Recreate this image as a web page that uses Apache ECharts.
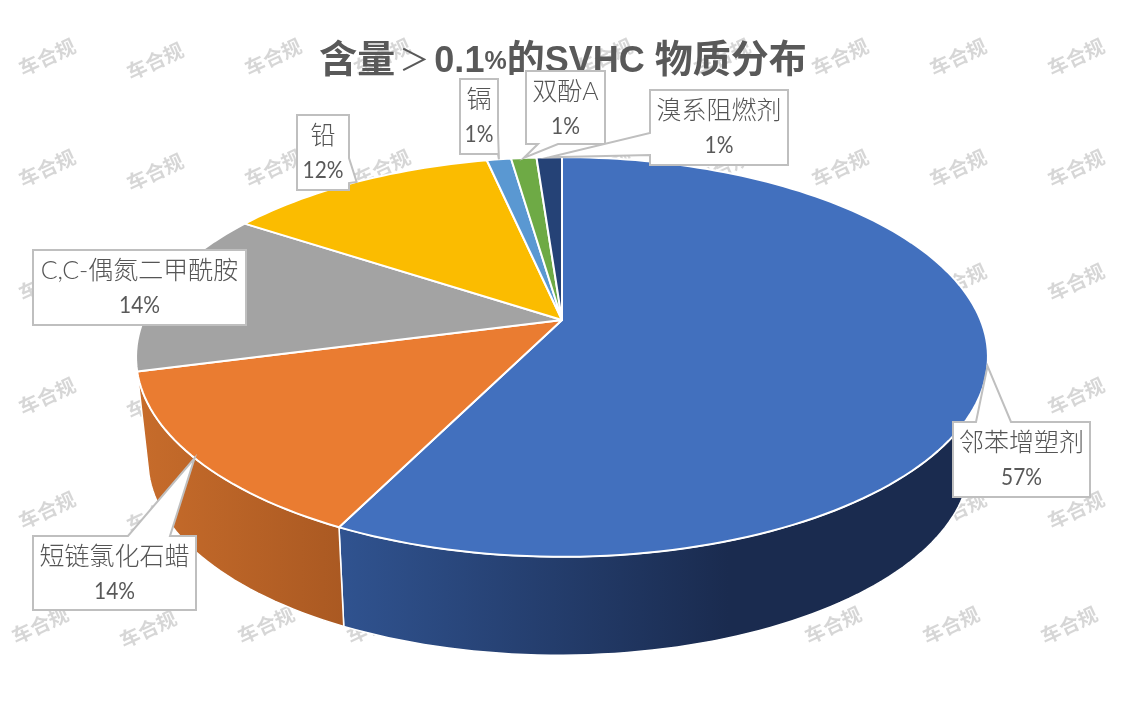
<!DOCTYPE html>
<html><head><meta charset="utf-8">
<style>html,body{margin:0;padding:0;background:#fff}#c{width:1125px;height:727px}</style>
<script src="https://cdn.jsdelivr.net/npm/echarts@6/dist/echarts.min.js"></script>
</head><body><div id="c"></div>
<script>
// ---- data ----
const categories = ['邻苯增塑剂','短链氯化石蜡','C,C-偶氮二甲酰胺','铅','镉','双酚A','溴系阻燃剂'];
const values = [57.33, 13.57, 13.37, 12.33, 1.1, 1.15, 1.15];
const percentLabels = ['57%','14%','14%','12%','1%','1%','1%'];
const colors = ['#4270be','#ea7c31','#a3a3a3','#fbbc00','#5a98d2','#6eaa45','#254276'];
const watermarkText = '车合规';

// ---- layout ----
const topPlane = {cx:562, cy:320, R:418.6, S:193, k:0.185, a:0};
const botPlane = {cx:559, cy:424.5, R:404, S:188, k:0.185, a:0};
const wallRange = [78, 262];
const wallGrad = {
  0:[[0,'#305390'],[0.6,'#1a2b4f'],[1,'#1a2b4f']],
  1:[[0,'#c76c2b'],[1,'#aa5922']]
};
// box: x0,y0,x1,y1, pointer side, base start, base end
const boxes = [
  [953,422,1090,497,'top',976,1011],
  [33,536,196,610,'top',128,170],
  [33,250,246,325,null,0,0],
  [297,115,349,190,'right',158,183],
  [460,79,498,154,'right',133,154],
  [526,71,605,144,'bottom',538,558],
  [650,90,788,165,'left',133,155]
];
const wmCols = [47,155,273,382,604,722,840,958,1076];
const wmRows = [57,168,282,396,510,625];

// ---- geometry ----
const total = values.reduce((a,b)=>a+b,0);
const bounds = [0];
values.forEach(v=>bounds.push(bounds[bounds.length-1]+v/total*360));
function proj(p,deg){
  const t=deg*Math.PI/180,u=Math.sin(t),v=-Math.cos(t),w=1-p.k*v;
  return [p.cx+p.R*u/w+p.a*v/w, p.cy+p.S*v/w];
}
function arc(p,a,b){
  const n=Math.max(2,Math.ceil(Math.abs(b-a)/1.5)),r=[];
  for(let i=0;i<=n;i++) r.push(proj(p,a+(b-a)*i/n));
  return r;
}
const nameFont = '300 25px Lato, "Noto Sans CJK SC", sans-serif';
const pctFont = '400 24px Lato, "Noto Sans CJK SC", sans-serif';
const idx = values.map((_,i)=>[i]);

const chart = echarts.init(document.getElementById('c'),null,{renderer:'canvas'});
const wm=[];
wmRows.forEach((y,r)=>wmCols.forEach((x,c)=>{
  const dx = r===5?-7:0, dy=c===1?4:0;
  wm.push({type:'text',x:x+dx,y:y+dy,rotation:25*Math.PI/180,z:0,silent:true,
    style:{text:watermarkText,align:'center',verticalAlign:'middle',
      font:'700 20px "Noto Sans CJK SC", sans-serif',fill:'rgba(0,0,0,0.16)'}});
}));

const tf='"Liberation Sans","Noto Sans CJK SC",sans-serif';
chart.setOption({
  animation:false,
  backgroundColor:'#fff',
  graphic:wm,
  title:{text:'{c|含量}{g|＞}{n|0.1}{p|%}{c|的}{l|SVHC }{c|物质分布}',left:558,top:33,textAlign:'center',z:1,
    textStyle:{color:'#595959',fontFamily:tf,fontSize:38,fontWeight:'bold',lineHeight:48,
      rich:{
        c:{fontSize:38,fontWeight:'bold',color:'#595959',fontFamily:tf},
        g:{fontSize:30,fontWeight:'normal',color:'#595959',fontFamily:tf,padding:[0,5,0,4]},
        n:{fontSize:36,fontWeight:'bold',color:'#595959',fontFamily:tf},
        p:{fontSize:25,fontWeight:'bold',color:'#595959',fontFamily:tf},
        l:{fontSize:36,fontWeight:'bold',color:'#595959',fontFamily:tf}
      }}},
  series:[
    {type:'custom',coordinateSystem:'none',z:2,data:idx,silent:true,
     renderItem(params,api){
       const i=api.value(0);
       const a=Math.max(bounds[i],wallRange[0]),b=Math.min(bounds[i+1],wallRange[1]);
       if(b<=a||!wallGrad[i]) return null;
       const pts=arc(topPlane,a,b).concat(arc(botPlane,a,b).reverse());
       return {type:'polygon',shape:{points:pts},
         style:{fill:new echarts.graphic.LinearGradient(0,0,1,0,
           wallGrad[i].map(s=>({offset:s[0],color:s[1]}))),
           stroke:'#fff',lineWidth:1.5,lineJoin:'round'}};
     }},
    {type:'custom',coordinateSystem:'none',z:3,data:idx,silent:true,
     renderItem(params,api){
       const i=api.value(0);
       const pts=[[topPlane.cx,topPlane.cy]].concat(arc(topPlane,bounds[i],bounds[i+1]));
       return {type:'polygon',shape:{points:pts},
         style:{fill:colors[i],stroke:'#fff',lineWidth:2,lineJoin:'round'}};
     }},
    {type:'custom',coordinateSystem:'none',z:4,data:idx,silent:true,
     renderItem(params,api){
       const i=api.value(0),bx=boxes[i];
       const [x0,y0,x1,y1,side,b0,b1]=bx;
       const tip=proj(topPlane,(bounds[i]+bounds[i+1])/2);
       let pts;
       if(side==='top') pts=[[x0,y0],[b0,y0],tip,[b1,y0],[x1,y0],[x1,y1],[x0,y1]];
       else if(side==='bottom') pts=[[x0,y0],[x1,y0],[x1,y1],[b1,y1],tip,[b0,y1],[x0,y1]];
       else if(side==='right') pts=[[x0,y0],[x1,y0],[x1,b0],tip,[x1,b1],[x1,y1],[x0,y1]];
       else if(side==='left') pts=[[x0,y0],[x1,y0],[x1,y1],[x0,y1],[x0,b1],tip,[x0,b0]];
       else pts=[[x0,y0],[x1,y0],[x1,y1],[x0,y1]];
       const cx=(x0+x1)/2;
       return {type:'group',children:[
         {type:'polygon',shape:{points:pts},
          style:{fill:'#fff',stroke:'#bfbfbf',lineWidth:2,lineJoin:'miter'}},
         {type:'text',style:{text:categories[i],x:cx,y:y0+21,align:'center',verticalAlign:'middle',
           font:nameFont,fill:'#555'}},
         {type:'text',x:cx,y:y0+55,scaleX:0.87,style:{text:percentLabels[i],x:0,y:0,align:'center',verticalAlign:'middle',
           font:pctFont,fill:'#595959'}}
       ]};
     }}
  ]
});
</script></body></html>
